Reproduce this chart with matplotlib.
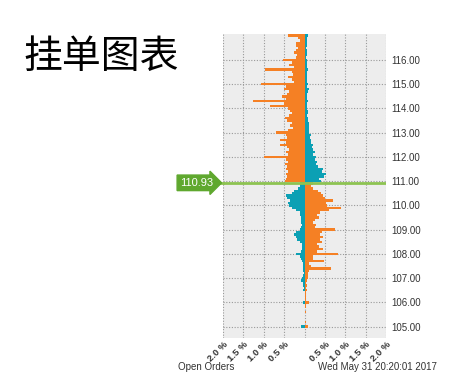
import matplotlib
matplotlib.use("Agg")
import matplotlib.pyplot as plt
import matplotlib.transforms as mtransforms
import numpy as np

plt.rcParams['font.family'] = ['Liberation Sans', 'Noto Sans CJK SC', 'DejaVu Sans']

title = "挂单图表"
current_price = 110.93
footer_left = "Open Orders"
footer_right = "Wed May 31 20:20:01 2017"

# Price buckets above the current price: orange (left) / teal (right), in %
upper_prices = [117.0, 116.9, 116.8, 116.7, 116.6, 116.5, 116.4, 116.3, 116.2, 116.1,
                116.0, 115.9, 115.8, 115.7, 115.6, 115.5, 115.4, 115.3, 115.2, 115.1,
                115.0, 114.9, 114.8, 114.7, 114.6, 114.5, 114.4, 114.3, 114.2, 114.1,
                114.0, 113.9, 113.8, 113.7, 113.6, 113.5, 113.4, 113.3, 113.2, 113.1,
                113.0, 112.9, 112.8, 112.7, 112.6, 112.5, 112.4, 112.3, 112.2, 112.1,
                112.0, 111.9, 111.8, 111.7, 111.6, 111.5, 111.4, 111.3, 111.2, 111.1,
                111.0]
upper_left_orange = [0.41, 0.17, 0.12, 0.20, 0.22, 0.15, 0.20, 0.25, 0.18, 0.22,
                     0.53, 0.30, 0.37, 0.25, 0.96, 0.30, 0.28, 0.40, 0.30, 0.25,
                     1.07, 0.45, 0.50, 0.38, 0.42, 0.56, 0.45, 1.27, 0.50, 0.85,
                     0.40, 0.35, 0.30, 0.38, 0.48, 0.42, 0.30, 0.35, 0.28, 0.40,
                     0.70, 0.45, 0.42, 0.60, 0.45, 0.60, 0.42, 0.38, 0.45, 0.40,
                     0.99, 0.45, 0.40, 0.48, 0.42, 0.45, 0.40, 0.45, 0.42, 0.45,
                     0.48]
upper_right_teal = [0.08, 0.06, 0.05, 0.06, 0.05, 0.04, 0.06, 0.05, 0.05, 0.04,
                    0.06, 0.05, 0.06, 0.06, 0.08, 0.06, 0.05, 0.07, 0.06, 0.05,
                    0.08, 0.06, 0.10, 0.08, 0.06, 0.07, 0.06, 0.08, 0.07, 0.07,
                    0.06, 0.08, 0.08, 0.07, 0.09, 0.08, 0.10, 0.10, 0.11, 0.12,
                    0.12, 0.15, 0.13, 0.17, 0.16, 0.20, 0.18, 0.22, 0.25, 0.20,
                    0.27, 0.25, 0.30, 0.28, 0.33, 0.45, 0.42, 0.53, 0.48, 0.35,
                    0.40]

# Price buckets below the current price: teal (left) / orange (right), in %
lower_prices = [110.9, 110.8, 110.7, 110.6, 110.5, 110.4, 110.3, 110.2, 110.1, 110.0,
                109.9, 109.8, 109.7, 109.6, 109.5, 109.4, 109.3, 109.2, 109.1, 109.0,
                108.9, 108.8, 108.7, 108.6, 108.5, 108.4, 108.3, 108.2, 108.1, 108.0,
                107.9, 107.8, 107.7, 107.6, 107.5, 107.4, 107.3, 107.2, 107.1, 107.0,
                106.9, 106.8, 106.7, 106.6, 106.5, 106.4, 106.3, 106.2, 106.1, 106.0,
                105.9, 105.8, 105.7, 105.6, 105.5, 105.4, 105.3, 105.2, 105.1, 105.0]
lower_left_teal = [0.10, 0.12, 0.15, 0.25, 0.30, 0.45, 0.42, 0.35, 0.40, 0.37,
                   0.30, 0.22, 0.12, 0.10, 0.08, 0.08, 0.09, 0.07, 0.08, 0.10,
                   0.20, 0.25, 0.22, 0.18, 0.10, 0.06, 0.05, 0.06, 0.08, 0.20,
                   0.12, 0.08, 0.05, 0.04, 0.03, 0.03, 0.03, 0.02, 0.03, 0.06,
                   0.08, 0.03, 0.04, 0.02, 0.03, 0.00, 0.00, 0.00, 0.00, 0.04,
                   0.00, 0.00, 0.00, 0.00, 0.00, 0.00, 0.00, 0.00, 0.00, 0.08]
lower_right_orange = [0.20, 0.15, 0.22, 0.32, 0.40, 0.45, 0.50, 0.70, 0.52, 0.55,
                      0.90, 0.60, 0.38, 0.30, 0.35, 0.25, 0.22, 0.28, 0.25, 0.75,
                      0.42, 0.38, 0.45, 0.38, 0.42, 0.30, 0.35, 0.45, 0.30, 0.82,
                      0.20, 0.22, 0.49, 0.12, 0.15, 0.65, 0.10, 0.08, 0.08, 0.08,
                      0.05, 0.04, 0.05, 0.04, 0.05, 0.03, 0.04, 0.03, 0.04, 0.10,
                      0.03, 0.04, 0.02, 0.03, 0.02, 0.00, 0.00, 0.03, 0.02, 0.08]

x_ticks = [-2.0, -1.5, -1.0, -0.5, 0.0, 0.5, 1.0, 1.5, 2.0]
x_tick_labels = ["2.0 %", "1.5 %", "1.0 %", "0.5 %", "", "0.5 %", "1.0 %", "1.5 %", "2.0 %"]
y_ticks = [105, 106, 107, 108, 109, 110, 111, 112, 113, 114, 115, 116]

ORANGE = "#f58024"
TEAL = "#0ca0b4"
GREEN_BOX = "#5fa82e"
GREEN_LINE = "#8dc351"

fig = plt.figure(figsize=(4.52, 3.88), dpi=100)
ax = fig.add_axes([0.4934, 0.1289, 0.3606, 0.7835])
ax.set_facecolor("#ededed")

bh = 0.1
ax.barh(upper_prices, [-v for v in upper_left_orange], height=bh, color=ORANGE, linewidth=0)
ax.barh(upper_prices, upper_right_teal, height=bh, color=TEAL, linewidth=0)
ax.barh(lower_prices, [-v for v in lower_left_teal], height=bh, color=TEAL, linewidth=0)
ax.barh(lower_prices, lower_right_orange, height=bh, color=ORANGE, linewidth=0)

ax.set_xlim(-2.0, 2.0)
ax.set_ylim(104.53, 117.07)
ax.set_xticks(x_ticks)
ax.set_xticklabels(x_tick_labels, rotation=45, ha="right", rotation_mode="anchor",
                   fontsize=6.8, fontweight="bold", color="#333333")
offset = mtransforms.ScaledTranslation(6 / 100, 0, fig.dpi_scale_trans)
for lab in ax.get_xticklabels():
    lab.set_transform(lab.get_transform() + offset)
ax.set_yticks(y_ticks)
ax.set_yticklabels([f"{v:.2f}" for v in y_ticks], fontsize=7, color="#333333")
ax.yaxis.tick_right()
ax.tick_params(axis="both", length=0)
ax.tick_params(axis="y", pad=4)
ax.tick_params(axis="x", pad=1.5)
ax.grid(True, color="#999999", linestyle=(0, (1, 1.5)), linewidth=0.8)
ax.set_axisbelow(True)
for s in ax.spines.values():
    s.set_visible(False)

# current price line and label
trans = mtransforms.blended_transform_factory(fig.transFigure, ax.transData)
ax.axhline(current_price, color=GREEN_LINE, linewidth=2, zorder=5)
ax.plot([0.47, 0.4934], [current_price, current_price], transform=trans,
        color=GREEN_LINE, linewidth=2, clip_on=False, zorder=5)
ax.text(0.398, current_price, f"{current_price:.2f}", transform=trans,
        ha="left", va="center", fontsize=8, color="white", zorder=6,
        bbox=dict(boxstyle="rarrow,pad=0.25", fc=GREEN_BOX, ec=GREEN_BOX))

fig.text(0.052, 0.853, title, fontsize=28, ha="left", va="center",
         family=["Noto Sans CJK SC", "DejaVu Sans"], color="black")
fig.text(0.394, 0.053, footer_left, fontsize=7, ha="left", va="center", color="#333333")
fig.text(0.703, 0.053, footer_right, fontsize=7, ha="left", va="center", color="#333333")

fig.savefig("out.png", dpi=100)
